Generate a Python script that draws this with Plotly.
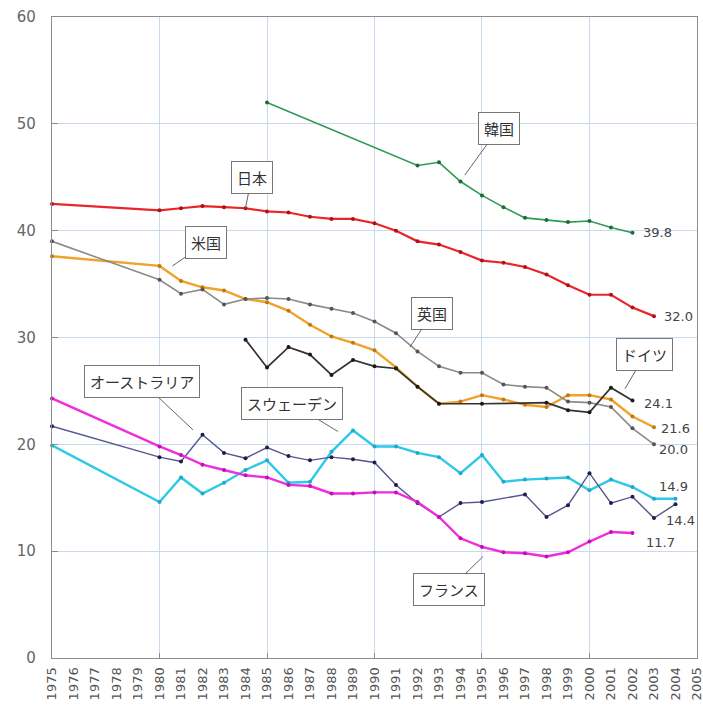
import plotly.graph_objects as go

# ---------------- data ----------------
years_all = list(range(1975, 2006))
tick_labels = [str(y) for y in years_all]

japan_years = [1975] + list(range(1980, 2004))
japan = [42.5, 41.9, 42.1, 42.3, 42.2, 42.1, 41.8, 41.7, 41.3, 41.1, 41.1, 40.7, 40.0,
         39.0, 38.7, 38.0, 37.2, 37.0, 36.6, 35.9, 34.9, 34.0, 34.0, 32.8, 32.0]

korea_years = [1985] + list(range(1992, 2003))
korea = [52.0, 46.1, 46.4, 44.6, 43.3, 42.2, 41.2, 41.0, 40.8, 40.9, 40.3, 39.8]

usa_years = [1975] + list(range(1980, 2004))
usa = [37.6, 36.7, 35.3, 34.7, 34.4, 33.6, 33.3, 32.5, 31.2, 30.1, 29.5, 28.8, 27.2,
       25.4, 23.8, 24.0, 24.6, 24.2, 23.7, 23.5, 24.6, 24.6, 24.2, 22.6, 21.6]

uk_years = [1975] + list(range(1980, 2004))
uk = [39.0, 35.4, 34.1, 34.5, 33.1, 33.6, 33.7, 33.6, 33.1, 32.7, 32.3, 31.5, 30.4,
      28.7, 27.3, 26.7, 26.7, 25.6, 25.4, 25.3, 24.0, 23.9, 23.5, 21.5, 20.0]

germany_years = [1984, 1985, 1986, 1987, 1988, 1989, 1990, 1991, 1992, 1993, 1995,
                 1998, 1999, 2000, 2001, 2002]
germany = [29.8, 27.2, 29.1, 28.4, 26.5, 27.9, 27.3, 27.1, 25.4, 23.8, 23.8,
           23.9, 23.2, 23.0, 25.3, 24.1]

sweden_years = [1975] + list(range(1980, 2005))
sweden = [19.9, 14.6, 16.9, 15.4, 16.4, 17.6, 18.5, 16.4, 16.5, 19.3, 21.3, 19.8, 19.8,
          19.2, 18.8, 17.3, 19.0, 16.5, 16.7, 16.8, 16.9, 15.7, 16.7, 16.0, 14.9, 14.9]

australia_years = [1975] + list(range(1980, 1996)) + list(range(1997, 2005))
australia = [21.7, 18.8, 18.4, 20.9, 19.2, 18.7, 19.7, 18.9, 18.5, 18.8, 18.6, 18.3,
             16.2, 14.5, 13.2, 14.5, 14.6, 15.3, 13.2, 14.3, 17.3, 14.5, 15.1, 13.1, 14.4]

france_years = [1975] + list(range(1980, 2003))
france = [24.3, 19.8, 19.0, 18.1, 17.6, 17.1, 16.9, 16.2, 16.1, 15.4, 15.4, 15.5, 15.5,
          14.6, 13.2, 11.2, 10.4, 9.9, 9.8, 9.5, 9.9, 10.9, 11.8, 11.7]

y_ticks = [0, 10, 20, 30, 40, 50, 60]

# ---------------- figure ----------------
fig = go.Figure()

# overlay axis that only supplies 5-year gridlines and ticks (drawn first)
fig.add_trace(go.Scatter(x=[1975, 2005], y=[0, 0], xaxis="x2", mode="lines",
                         line=dict(width=0), showlegend=False, hoverinfo="skip"))

series = [
    ("日本", japan_years, japan, "#e8262a", "#b01018", 2.2),
    ("韓国", korea_years, korea, "#2f9a55", "#1d6b38", 1.6),
    ("米国", usa_years, usa, "#f0a22a", "#c07810", 2.4),
    ("英国", uk_years, uk, "#8a8a8a", "#555555", 1.6),
    ("ドイツ", germany_years, germany, "#333333", "#1a1a1a", 1.7),
    ("スウェーデン", sweden_years, sweden, "#2ec8e8", "#20a8c8", 2.4),
    ("オーストラリア", australia_years, australia, "#55558f", "#1e1e50", 1.4),
    ("フランス", france_years, france, "#ee2ddd", "#c010b8", 2.4),
]

for name, xs, ys, col, mcol, w in series:
    fig.add_trace(go.Scatter(
        x=xs, y=ys, mode="lines+markers", name=name,
        line=dict(color=col, width=w),
        marker=dict(color=mcol, size=4),
        showlegend=False, hoverinfo="x+y+name", cliponaxis=False,
    ))

grid_col = "#c9d9ee"
axis_col = "#8c8c8c"
x_range = [1974.999, 2005.001]

fig.update_layout(
    width=703, height=710,
    margin=dict(l=52, r=6, t=17, b=52, autoexpand=False),
    plot_bgcolor="white", paper_bgcolor="white",
    font=dict(family="Noto Sans CJK JP, DejaVu Sans, sans-serif", color="#444"),
    xaxis=dict(
        range=x_range, tickmode="array", tickvals=years_all, ticktext=tick_labels,
        tickangle=-90, tickfont=dict(size=13, color="#555", family="DejaVu Sans"),
        showgrid=False, zeroline=False, showline=True, linecolor=axis_col,
        linewidth=1.2, mirror=True, ticks="", ticklabelstandoff=3, automargin=False,
        ticklabeloverflow="allow",
    ),
    xaxis2=dict(
        overlaying="x", matches="x", range=x_range, side="bottom",
        tickmode="array", tickvals=[1980, 1985, 1990, 1995, 2000],
        showticklabels=False, showgrid=True, gridcolor=grid_col, gridwidth=1,
        ticks="inside", ticklen=5, tickcolor=axis_col, showline=False, zeroline=False,
        automargin=False,
    ),
    yaxis=dict(
        range=[0, 60], tickmode="array", tickvals=y_ticks,
        tickfont=dict(size=15, color="#666", family="DejaVu Sans"),
        showgrid=True, gridcolor=grid_col, gridwidth=1, zeroline=False,
        showline=True, linecolor=axis_col, linewidth=1.2, mirror=True,
        ticks="inside", ticklen=6, tickcolor=axis_col, ticklabelstandoff=12,
        automargin=False,
    ),
)

# callout labels: (text, x, y, ax, ay)
callouts = [
    ("日本", 1984.0, 42.1, 6, -31),
    ("米国", 1980.6, 36.7, 34, -23),
    ("韓国", 1994.2, 45.2, 34, -47),
    ("英国", 1991.65, 29.1, 22, -34),
    ("ドイツ", 2001.65, 25.2, 20, -34),
    ("オーストラリア", 1981.56, 21.35, -51, -48),
    ("スウェーデン", 1988.3, 21.2, -46, -28),
    ("フランス", 1995.05, 9.5, -34, 33),
]
for text, x, y, ax, ay in callouts:
    fig.add_annotation(
        x=x, y=y, text=text, showarrow=True, arrowhead=0, arrowwidth=1,
        arrowcolor="#666", ax=ax, ay=ay,
        font=dict(size=15, color="#333", family="Noto Sans CJK JP"),
        bgcolor="white", bordercolor="#777", borderwidth=1, borderpad=5,
    )

# end-of-line value labels: (series x, series y, xshift, yshift, xanchor)
end_labels = [
    (korea_years, korea, 9, 0, "left"),
    (japan_years, japan, 8, 0, "left"),
    (germany_years, germany, 10, -3, "left"),
    (usa_years, usa, 5, -1, "left"),
    (uk_years, uk, 3, -5, "left"),
    (sweden_years, sweden, -2, 12, "center"),
    (australia_years, australia, 5, -16, "center"),
    (france_years, france, 12, -9, "left"),
]
for xs, ys, xsh, ysh, anc in end_labels:
    fig.add_annotation(
        x=xs[-1], y=ys[-1], text=f"{ys[-1]:.1f}", showarrow=False,
        xanchor=anc, yanchor="middle", xshift=xsh, yshift=ysh,
        font=dict(size=13, color="#444", family="DejaVu Sans"),
    )

fig.write_html(
    "out.html",
    config={"displayModeBar": False},
    post_script="document.body.style.margin='0';document.body.style.overflow='hidden';",
)
